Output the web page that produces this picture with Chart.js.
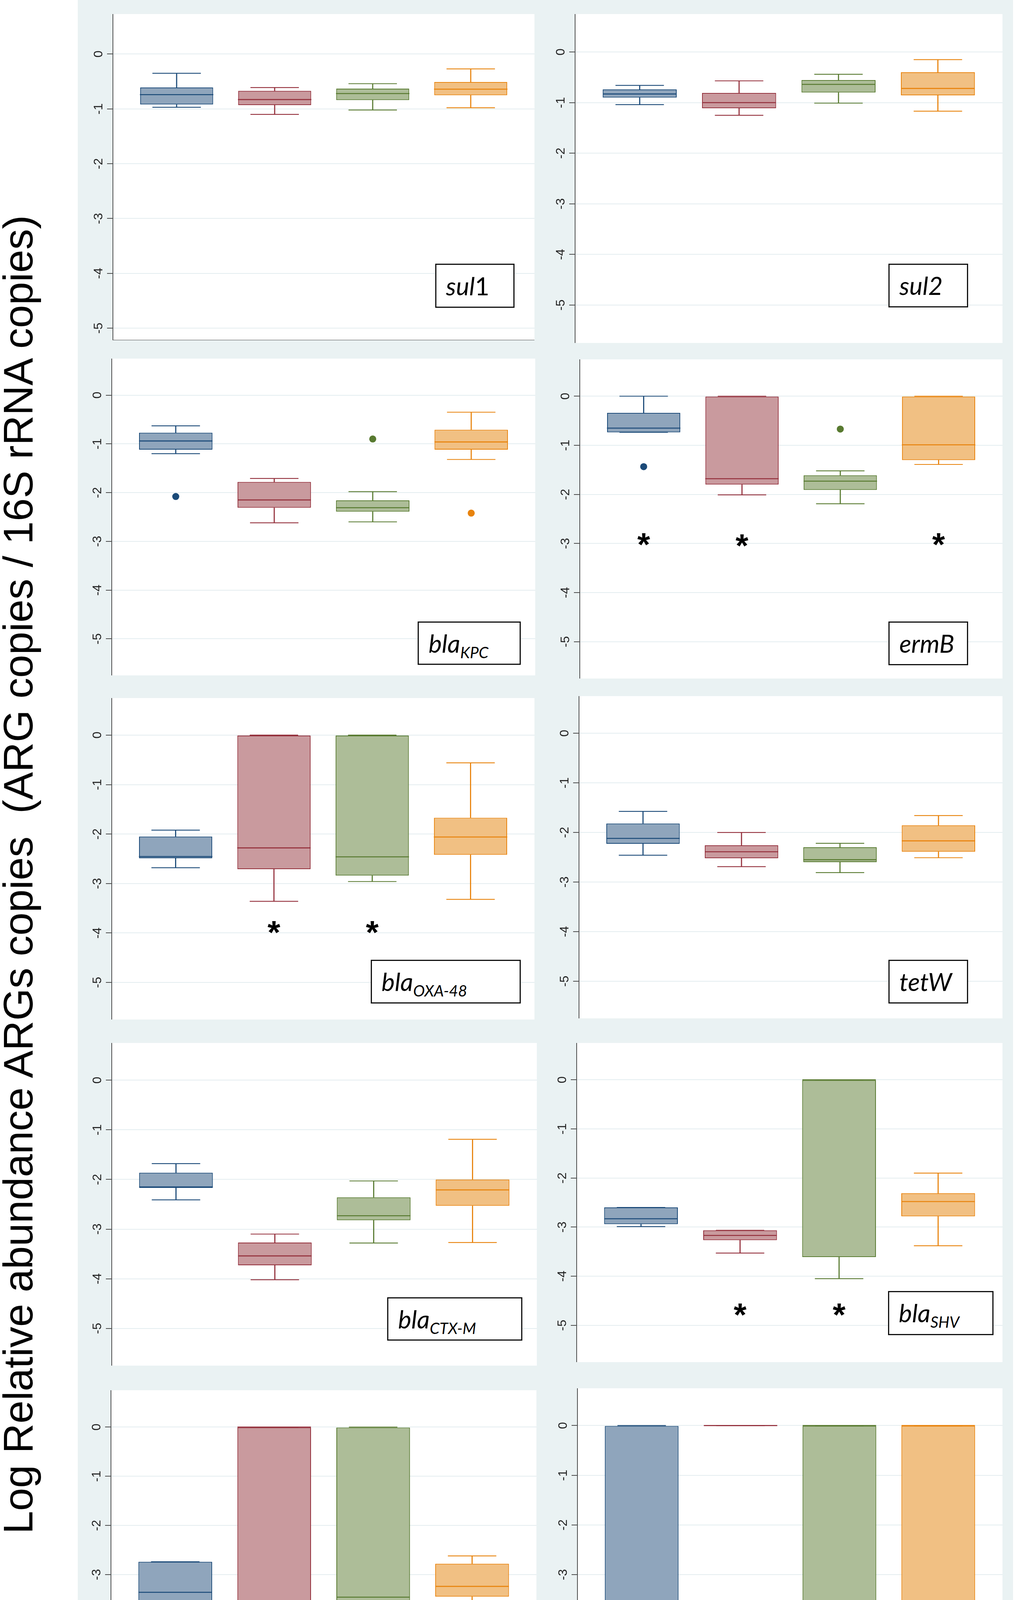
<!DOCTYPE html>
<html>
<head>
<meta charset="utf-8">
<script src="https://cdn.jsdelivr.net/npm/chart.js@4.4.1/dist/chart.umd.min.js"></script>
<style>
html,body{margin:0;padding:0;background:#fff;}
body{width:2598px;height:4663px;position:relative;overflow:hidden;font-family:'Liberation Sans',Arial,sans-serif;}
#root{position:absolute;left:0;top:0;width:2598px;height:4663px;}
.abs{position:absolute;}
.bg{background:#eaf2f3;}
canvas{position:absolute;}
.gene{position:absolute;box-sizing:border-box;border:3px solid #111;background:#fff;font-family:Lato,'Open Sans',sans-serif;font-size:64px;padding-left:25px;white-space:nowrap;color:#000;}
.gene i{font-style:italic;}
.gene .sb{font-size:40px;position:relative;top:14px;}
.ytitle{position:absolute;font-family:'Liberation Sans',Arial,sans-serif;font-size:106px;line-height:106px;height:106px;text-align:center;white-space:pre;color:#000;transform:rotate(-90deg);transform-origin:50% 50%;}
.legtxt{position:absolute;font-family:'Liberation Sans',Arial,sans-serif;font-size:49px;line-height:49px;white-space:nowrap;color:#000;}
.sw{position:absolute;box-sizing:border-box;border:3px solid;}
</style>
</head>
<body>
<div id="root">
<div class="abs bg" style="left:199px;top:0px;width:2394px;height:4411px;"></div>
</div>
<script>
// ---------------- DATA ----------------
const groups = ['Raw influent', 'Aeration Tank', 'Return actived sludge', 'Final effluent'];
const groupPos = [1, 2, 3, 4];
const genes = ['sul1', 'sul2', 'blaKPC', 'ermB', 'blaOXA-48', 'tetW', 'blaCTX-M', 'blaSHV', 'qnrA', 'blaNDM'];
const yTicks = [0, -1, -2, -3, -4, -5];
const yTickLabels = ['0', '-1', '-2', '-3', '-4', '-5'];
const yAxisMin = [-5.22, -5.75, -5.75, -5.75, -5.75, -5.75, -5.75, -5.75, -5.75, -5.75];
const yAxisMax = [0.73, 0.75, 0.75, 0.75, 0.75, 0.75, 0.75, 0.75, 0.75, 0.75];

const whiskerLow = [
  [-0.97, -1.10, -1.02, -0.98],
  [-1.04, -1.25, -1.01, -1.17],
  [-1.20, -2.62, -2.60, -1.32],
  [-0.735, -2.01, -2.19, -1.39],
  [-2.68, -3.36, -2.96, -3.32],
  [-2.46, -2.69, -2.81, -2.51],
  [-2.41, -4.02, -3.28, -3.27],
  [-2.99, -3.53, -4.05, -3.38],
  [-4.03, -3.82, -4.06, -3.99],
  [-4.88, 0, -4.92, -4.70]
];
const boxLow = [
  [-0.92, -0.93, -0.84, -0.75],
  [-0.90, -1.11, -0.80, -0.855],
  [-1.12, -2.31, -2.39, -1.12],
  [-0.735, -1.80, -1.91, -1.30],
  [-2.49, -2.71, -2.84, -2.42],
  [-2.23, -2.52, -2.60, -2.39],
  [-2.17, -3.73, -2.82, -2.53],
  [-2.94, -3.265, -3.61, -2.78],
  [-3.545, -3.65, -3.63, -3.45],
  [-4.68, 0, -4.415, -3.99]
];
const median = [
  [-0.74, -0.83, -0.72, -0.64],
  [-0.83, -1.00, -0.64, -0.72],
  [-0.94, -2.15, -2.31, -0.96],
  [-0.65, -1.68, -1.73, -0.99],
  [-2.455, -2.28, -2.46, -2.06],
  [-2.12, -2.39, -2.55, -2.17],
  [-2.15, -3.54, -2.73, -2.21],
  [-2.83, -3.17, 0, -2.48],
  [-3.36, 0, -3.46, -3.24],
  [-4.44, 0, 0, 0]
];
const boxHigh = [
  [-0.61, -0.67, -0.63, -0.51],
  [-0.74, -0.81, -0.555, -0.40],
  [-0.77, -1.78, -2.16, -0.71],
  [-0.34, 0, -1.61, 0],
  [-2.05, 0, 0, -1.67],
  [-1.82, -2.26, -2.30, -1.855],
  [-1.865, -3.27, -2.36, -2.00],
  [-2.60, -3.065, 0, -2.31],
  [-2.74, 0, 0, -2.78],
  [0, 0, 0, 0]
];
const whiskerHigh = [
  [-0.35, -0.61, -0.54, -0.27],
  [-0.66, -0.57, -0.44, -0.15],
  [-0.63, -1.71, -1.98, -0.35],
  [0, 0, -1.52, 0],
  [-1.92, 0, 0, -0.56],
  [-1.575, -2.00, -2.22, -1.66],
  [-1.68, -3.10, -2.03, -1.19],
  [-2.60, -3.065, 0, -1.90],
  [-2.74, 0, 0, -2.62],
  [0, 0, 0, 0]
];
// [group index, value]
const outliers = [
  [], [],
  [[0, -2.08], [2, -0.90], [3, -2.42]],
  [[0, -1.435], [2, -0.67]],
  [], [], [], [], [],
  [[1, -5.18]]
];
const stars = [
  [], [], [],
  [[0, -2.88], [1, -2.90], [3, -2.88]],
  [[1, -3.85], [2, -3.85]],
  [], [],
  [[1, -4.645], [2, -4.645]],
  [[0, -4.67], [1, -4.47], [2, -4.53], [3, -4.53]],
  [[0, -5.13], [1, -5.48], [2, -5.20], [3, -4.87]]
];
const geneLabelHTML = [
  '<i>sul</i>1', '<i>sul2</i>', '<i>bla</i><span class="sb"><i>KPC</i></span>', '<i>ermB</i>',
  '<i>bla</i><span class="sb"><i>OXA-48</i></span>', '<i>tetW</i>',
  '<i>bla</i><span class="sb"><i>CTX-M</i></span>', '<i>bla</i><span class="sb"><i>SHV</i></span>',
  '<i>qnr</i>A', '<i>bla</i><span class="sb">NDM</span>'
];
const yTitle = 'Log Relative abundance ARGs copies  (ARG copies / 16S rRNA copies)';

// ---------------- LAYOUT / STYLE ----------------
const root = document.getElementById('root');
const plotRects = [
  [288.6, 35.6, 1368, 871.4], [1471.6, 35.6, 2566, 878.3],
  [286, 918.2, 1370, 1728.8], [1484, 920, 2566, 1736.5],
  [286, 1787.2, 1368, 2609.8], [1482.4, 1782, 2566, 2607],
  [286, 2670, 1374, 3495.5], [1475.8, 2670, 2566, 3487],
  [283.6, 3558.8, 1373, 4377], [1478.3, 3554, 2566, 4381]
];
const labelRects = [
  [1113.6, 675, 1317.4, 788], [2274, 675, 2478, 787],
  [1069, 1591, 1333, 1702], [2274, 1591, 2478, 1703],
  [948.6, 2457, 1333, 2568.5], [2274, 2457, 2478, 2568.5],
  [991, 3321, 1336.5, 3432], [2272.6, 3305, 2543, 3417.5],
  [1089.6, 4257, 1294.4, 4368], [2239.5, 4284, 2539.6, 4395]
];
const fills = ['#8fa5bc', '#c99a9e', '#adbd98', '#f1c083'];
const edges = ['#1b4a78', '#94303c', '#587a30', '#e8830d'];
const AXW = 90;

Chart.defaults.font.family = "'Liberation Sans', Arial, sans-serif";

const plotBg = {
  id: 'plotBg',
  beforeDraw(chart) {
    const a = chart.chartArea, c = chart.ctx;
    c.save(); c.fillStyle = '#ffffff'; c.fillRect(a.left, a.top, a.right - a.left, a.bottom - a.top); c.restore();
  }
};
const STAR_PX = 84;
const starText = {
  id: 'starText',
  afterDatasetsDraw(chart, args, opts) {
    const c = chart.ctx, xs = chart.scales.x, ys = chart.scales.y;
    c.save();
    c.fillStyle = '#000';
    c.font = "bold " + STAR_PX + "px 'Liberation Sans', Arial, sans-serif";
    c.textAlign = 'center';
    c.textBaseline = 'alphabetic';
    (opts.items || []).forEach(([g, v]) => {
      const x = xs.getPixelForValue(groupPos[g]);
      const y = ys.getPixelForValue(v);
      c.fillText('*', x, y + 0.56 * STAR_PX);
    });
    c.restore();
  }
};

function pts(arr) { return arr.map((v, g) => ({x: groupPos[g], y: v})); }

function makeChart(i) {
  const [l, t, r, b] = plotRects[i];
  const left = Math.round(l) - AXW, top = Math.round(t);
  const w = Math.round(r) - left, h = Math.round(b) - top;
  const cv = document.createElement('canvas');
  cv.width = w; cv.height = h;
  cv.style.left = left + 'px'; cv.style.top = top + 'px';
  cv.style.width = w + 'px'; cv.style.height = h + 'px';
  root.appendChild(cv);

  const datasets = [
    { type: 'bar', order: 6, label: 'box',
      data: groupPos.map((x, g) => ({x, y: [boxLow[i][g], boxHigh[i][g]]})),
      backgroundColor: fills, borderColor: edges, borderWidth: 2.2, borderSkipped: false,
      grouped: false, barPercentage: 0.745, categoryPercentage: 1 },
    { type: 'bar', order: 5, label: 'lowStem',
      data: groupPos.map((x, g) => ({x, y: [whiskerLow[i][g], boxLow[i][g]]})),
      backgroundColor: edges, borderWidth: 0, grouped: false, barThickness: 2.2 },
    { type: 'bar', order: 5, label: 'highStem',
      data: groupPos.map((x, g) => ({x, y: [boxHigh[i][g], whiskerHigh[i][g]]})),
      backgroundColor: edges, borderWidth: 0, grouped: false, barThickness: 2.2 },
    { type: 'line', order: 4, label: 'caps', showLine: false,
      data: pts(whiskerLow[i]).concat(pts(whiskerHigh[i])),
      pointStyle: 'line', pointRadius: 62, pointHoverRadius: 62, pointBorderWidth: 2.2,
      pointBorderColor: edges.concat(edges) },
    { type: 'line', order: 3, label: 'median', showLine: false,
      data: pts(median[i]),
      pointStyle: 'line', pointRadius: 94, pointHoverRadius: 94, pointBorderWidth: 2.6,
      pointBorderColor: edges },
    { type: 'line', order: 2, label: 'outliers', showLine: false,
      data: outliers[i].map(([g, v]) => ({x: groupPos[g], y: v})),
      pointStyle: 'circle', pointRadius: 9, pointHoverRadius: 9, pointBorderWidth: 0,
      pointBackgroundColor: outliers[i].map(([g]) => edges[g]),
      pointBorderColor: outliers[i].map(([g]) => edges[g]) }
  ];

  new Chart(cv, {
    type: 'bar',
    data: { datasets },
    plugins: [plotBg, starText],
    options: {
      responsive: false, animation: false, devicePixelRatio: 1, events: [],
      layout: { padding: 0, autoPadding: false },
      plugins: { legend: { display: false }, tooltip: { enabled: false }, starText: { items: stars[i] } },
      scales: {
        x: {
          type: 'linear', min: 0.35, max: 4.65, offset: false, display: i === 0,
          afterBuildTicks: s => { s.ticks = groupPos.map(v => ({value: v})); },
          grid: { display: false, drawTicks: false },
          ticks: { display: false },
          border: { display: true, color: '#4d4d4d', width: 3 }
        },
        y: {
          type: 'linear', position: 'left', min: yAxisMin[i], max: yAxisMax[i],
          afterBuildTicks: s => { s.ticks = yTicks.map(v => ({value: v})); },
          afterFit: s => { s.width = AXW; s.paddingTop = 0; s.paddingBottom = 0; s.paddingLeft = 0; s.paddingRight = 0; },
          ticks: {
            minRotation: 90, maxRotation: 90, crossAlign: 'center', padding: 7, autoSkip: false,
            color: '#222', font: { size: 32 },
            callback: v => yTickLabels[yTicks.indexOf(v)]
          },
          grid: { color: '#e4edf0', lineWidth: 2, drawTicks: true, tickLength: 15, tickColor: '#4d4d4d', tickWidth: 2 },
          border: { display: true, color: '#4d4d4d', width: 2 }
        }
      }
    }
  });

  const [ll, lt, lr, lb] = labelRects[i];
  const d = document.createElement('div');
  d.className = 'gene';
  d.style.left = ll + 'px'; d.style.top = lt + 'px';
  d.style.width = (lr - ll) + 'px'; d.style.height = (lb - lt) + 'px';
  d.style.lineHeight = (lb - lt - 6) + 'px';
  d.innerHTML = geneLabelHTML[i];
  root.appendChild(d);
}

for (let i = 0; i < genes.length; i++) makeChart(i);

// Y title
const yt = document.createElement('div');
yt.className = 'ytitle';
const TL = 3700;
yt.style.width = TL + 'px';
yt.style.left = (46 - TL / 2) + 'px';
yt.style.top = (2239 - 53) + 'px';
yt.textContent = yTitle;
root.appendChild(yt);

// Legend
const legBg = document.createElement('div');
legBg.className = 'abs bg';
Object.assign(legBg.style, {left: '686px', top: '4477px', width: '1439px', height: '186px'});
root.appendChild(legBg);
const legBox = document.createElement('div');
legBox.className = 'abs';
Object.assign(legBox.style, {left: '712px', top: '4487px', width: '1390px', height: '160px', boxSizing: 'border-box', border: '3px solid #333', background: '#fff'});
root.appendChild(legBox);
const legendSlots = [[733, 4508], [1533, 4508], [733, 4577], [1533, 4577]];
groups.forEach((name, g) => {
  const [sx, sy] = legendSlots[g];
  const sw = document.createElement('div');
  sw.className = 'sw';
  Object.assign(sw.style, {left: sx + 'px', top: sy + 'px', width: '189px', height: '50px', background: fills[g], borderColor: edges[g]});
  root.appendChild(sw);
  const tx = document.createElement('div');
  tx.className = 'legtxt';
  Object.assign(tx.style, {left: (sx + 221) + 'px', top: (sy + 0.5) + 'px'});
  tx.textContent = name;
  root.appendChild(tx);
});
</script>
</body>
</html>
